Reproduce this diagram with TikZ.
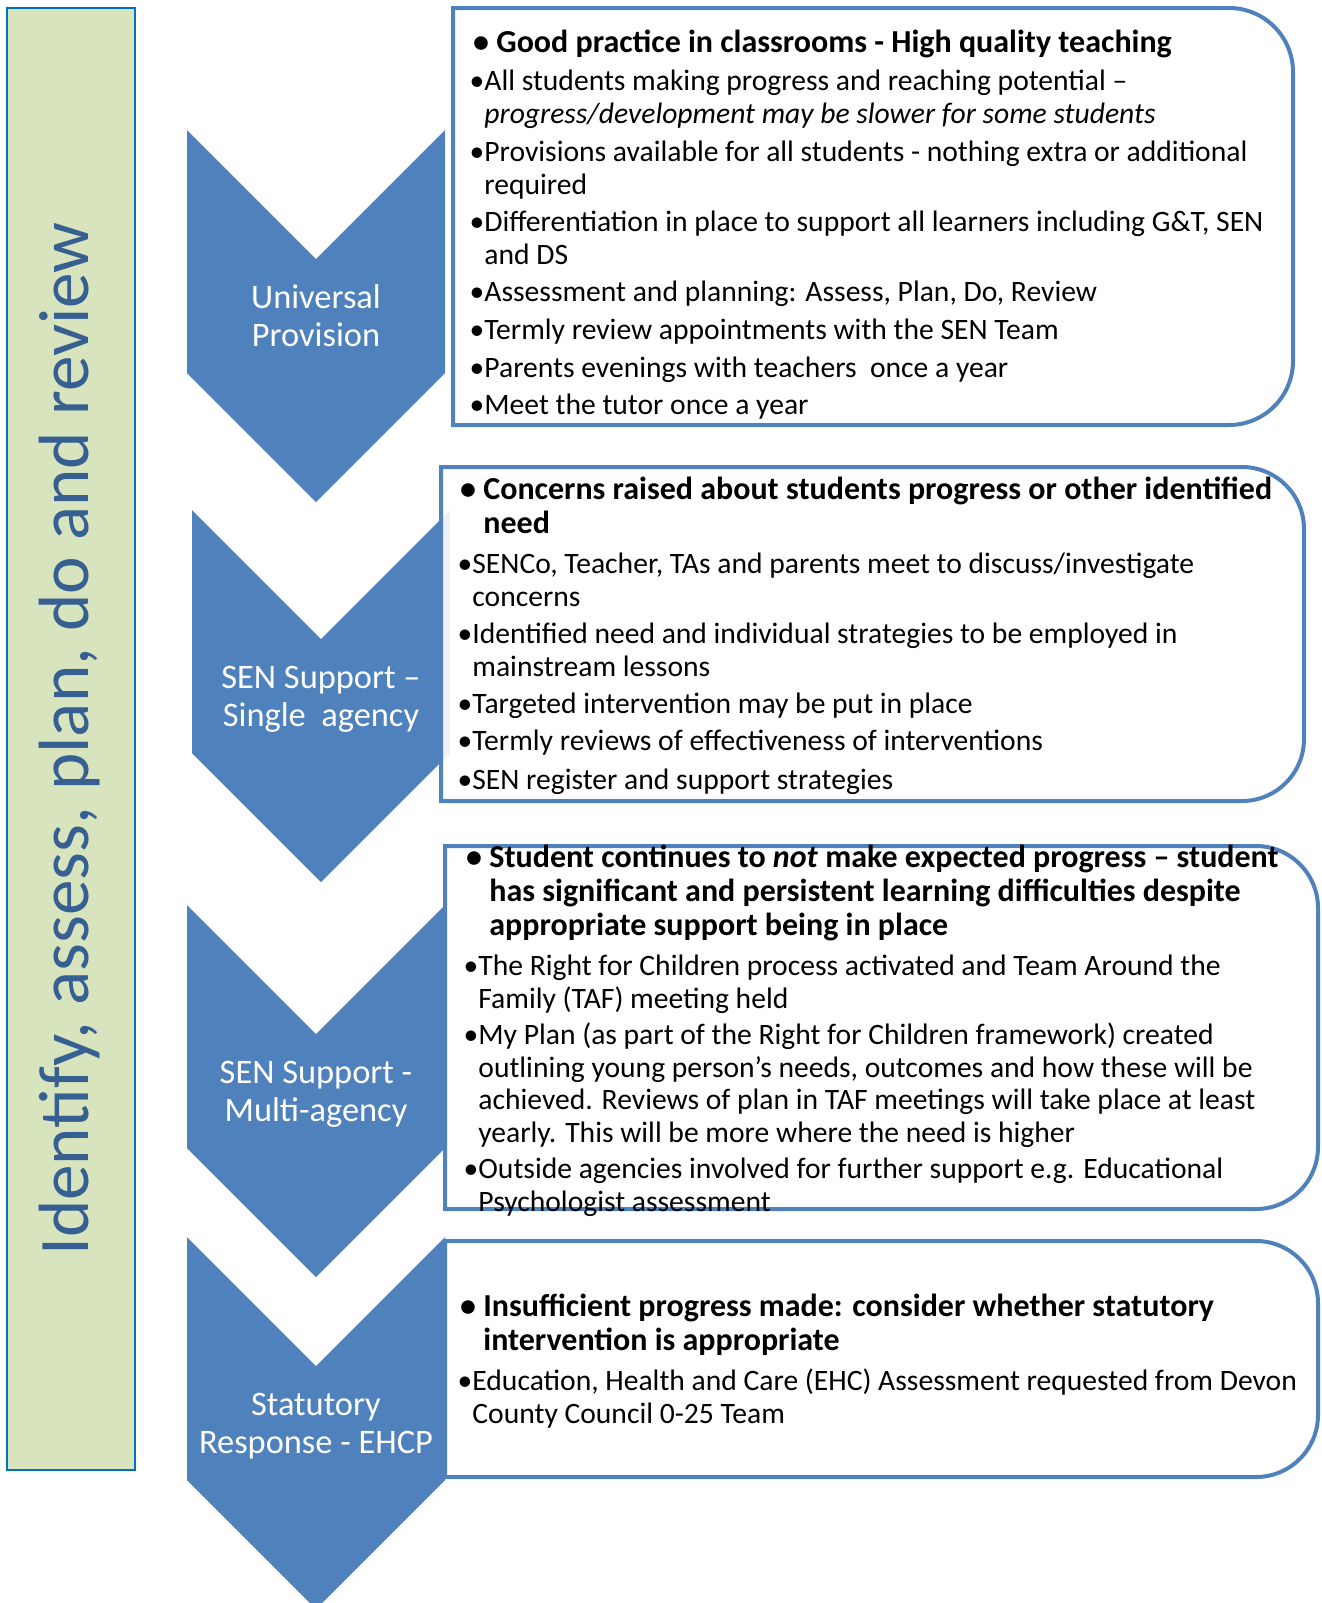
\documentclass[tikz,border=0pt]{standalone}
\usepackage{fontspec}
\setmainfont{Carlito}
\usepackage{tikz}
\usetikzlibrary{positioning}
\definecolor{chevBlue}{HTML}{4F81BD}
\definecolor{barGreen}{HTML}{D7E4BD}
\definecolor{barEdge}{HTML}{0070C0}
\definecolor{sideText}{HTML}{376092}

\begin{document}
\begin{tikzpicture}[x=0.5pt,y=0.5pt,
  chev/.style={fill=chevBlue},
  panel/.style={draw=chevBlue,line width=2pt,fill=white,fill opacity=0.9},
  lab/.style={white,align=center,font=\fontsize{17.2}{18.9}\selectfont},
  head/.style={anchor=base west,align=left,inner sep=0pt,font=\fontsize{16}{17}\selectfont\bfseries},
  item/.style={anchor=base west,align=left,inner sep=0pt,font=\fontsize{14.8}{16.2}\selectfont}]
\useasboundingbox (0,0) rectangle (1322,-1603);
% side bar
\draw[fill=barGreen,draw=barEdge,line width=1pt] (7,-8) rectangle (135,-1470);
\node[rotate=90,anchor=base,sideText,font=\fontsize{35.6}{40}\selectfont] (side) at (88,-739) {Identify, assess, plan, do and review};
% chevrons
\fill[chev] (187,-130) -- (316,-259) -- (445,-130) -- (445,-373) -- (316,-502) -- (187,-373) -- cycle;
\fill[chev] (192,-510) -- (321,-639) -- (450,-510) -- (450,-753) -- (321,-882) -- (192,-753) -- cycle;
\fill[chev] (187,-905) -- (316,-1034) -- (445,-905) -- (445,-1148) -- (316,-1277) -- (187,-1148) -- cycle;
\fill[chev] (187,-1237) -- (316,-1366) -- (445,-1237) -- (445,-1480) -- (316,-1609) -- (187,-1480) -- cycle;
\node[lab] (lab1) at (316,-316) {Universal\\Provision};
\node[lab] (lab2) at (321,-699) {SEN Support –\\Single\ \ agency};
\node[lab] (lab3) at (316,-1094) {SEN Support -\\Multi-agency};
\node[lab] (lab4) at (316,-1426) {Statutory\\Response - EHCP};
% panels
\draw[panel] (453,-425) -- (453,-8) -- (1229,-8) arc[start angle=90,end angle=0,radius=32pt] -- (1293,-361) arc[start angle=0,end angle=-90,radius=32pt] -- cycle;
\draw[panel] (441,-801) -- (441,-467) -- (1242,-467) arc[start angle=90,end angle=0,radius=31pt] -- (1304,-739) arc[start angle=0,end angle=-90,radius=31pt] -- cycle;
\draw[panel] (445,-1209) -- (445,-846) -- (1256,-846) arc[start angle=90,end angle=0,radius=31pt] -- (1318,-1147) arc[start angle=0,end angle=-90,radius=31pt] -- cycle;
\draw[panel] (445,-1477) -- (445,-1241) -- (1256,-1241) arc[start angle=90,end angle=0,radius=31pt] -- (1318,-1415) arc[start angle=0,end angle=-90,radius=31pt] -- cycle;
% universal provision (y = baseline of last line)
\node[head] (h1) at (496,-52) {\llap{•\ }Good practice in classrooms - High quality teaching};
\node[item] (a1) at (484,-123) {\llap{•}All students making progress and reaching potential –\\\textit{progress/development may be slower for some students}};
\node[item] (a2) at (484,-194) {\llap{•}Provisions available for all students - nothing extra or additional\\required};
\node[item] (a3) at (484,-264) {\llap{•}Differentiation in place to support all learners including G\&T, SEN\\and DS};
\node[item] (a4) at (484,-301) {\llap{•}Assessment and planning: Assess, Plan, Do, Review};
\node[item] (a5) at (484,-339) {\llap{•}Termly review appointments with the SEN Team};
\node[item] (a6) at (484,-377) {\llap{•}Parents evenings with teachers\ \ once a year};
\node[item] (a7) at (484,-414) {\llap{•}Meet the tutor once a year};
% single agency
\node[head] (h2) at (483,-533) {\llap{•\ }Concerns raised about students progress or other identified\\need};
\node[item] (b1) at (472,-606) {\llap{•}SENCo, Teacher, TAs and parents meet to discuss/investigate\\concerns};
\node[item] (b2) at (472,-676) {\llap{•}Identified need and individual strategies to be employed in\\mainstream lessons};
\node[item] (b3) at (472,-713) {\llap{•}Targeted intervention may be put in place};
\node[item] (b4) at (472,-750) {\llap{•}Termly reviews of effectiveness of interventions};
\node[item] (b5) at (472,-789) {\llap{•}SEN register and support strategies};
% multi-agency
\node[head] (h3) at (489,-935) {\llap{•\ }Student continues to \textit{not} make expected progress – student\\has significant and persistent learning difficulties despite\\appropriate support being in place};
\node[item] (c1) at (478,-1008) {\llap{•}The Right for Children process activated and Team Around the\\Family (TAF) meeting held};
\node[item] (c2) at (478,-1142) {\llap{•}My Plan (as part of the Right for Children framework) created\\outlining young person’s needs, outcomes and how these will be\\achieved. Reviews of plan in TAF meetings will take place at least\\yearly. This will be more where the need is higher};
\node[item] (c3) at (478,-1211) {\llap{•}Outside agencies involved for further support e.g. Educational\\Psychologist assessment};
% statutory
\node[head] (h4) at (483,-1350) {\llap{•\ }Insufficient progress made: consider whether statutory\\intervention is appropriate};
\node[item] (d1) at (472,-1423) {\llap{•}Education, Health and Care (EHC) Assessment requested from Devon\\County Council 0-25 Team};
\end{tikzpicture}
\end{document}
